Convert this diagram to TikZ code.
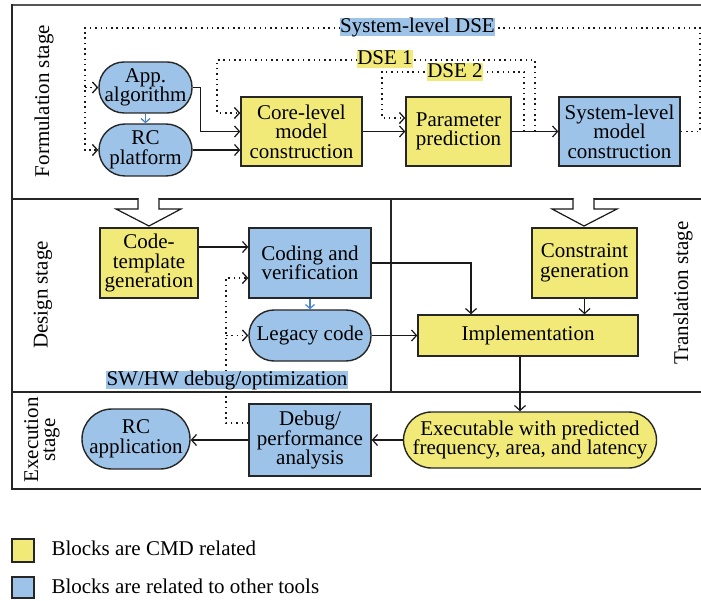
\documentclass[tikz,border=0pt]{standalone}
\usepackage{fontspec}
\setmainfont{Liberation Serif}
\usetikzlibrary{arrows.meta}
\definecolor{cmdyellow}{RGB}{242,234,120}
\definecolor{toolblue}{RGB}{157,195,232}
\definecolor{linkblue}{RGB}{72,128,205}
\definecolor{framegray}{RGB}{85,85,85}

\begin{document}
\begin{tikzpicture}[x=1pt,y=-1pt,
  font=\fontsize{21}{19.5}\selectfont,
  box/.style={draw=black!85, line width=1.4pt, align=center, inner sep=0pt},
  ybox/.style={box, fill=cmdyellow},
  bbox/.style={box, fill=toolblue},
  conn/.style={line width=1.2pt, draw=black!90, -{Straight Barb[length=5pt,width=11pt]}},
  bluearr/.style={line width=1.2pt, draw=linkblue, -{Straight Barb[length=4pt,width=9pt]}},
  dotline/.style={line width=1.3pt, draw=black!90, dash pattern=on 1.5pt off 3.8pt},
  dotarr/.style={dotline, -{Straight Barb[length=5pt,width=11pt]}},
  lbl/.style={inner xsep=0.5pt, inner ysep=0.5pt, text height=14pt, text depth=3.5pt},
  stageline/.style={line width=1.8pt, draw=black!85},
  blockarrow/.style={line width=1.2pt, draw=black!90, fill=white, line join=miter}
]
\useasboundingbox (0,0) rectangle (701,601);

% stage frame and dividers
\draw[line width=2.6pt, draw=framegray] (11,5) -- (705,5);
\draw[stageline] (12,4) -- (12,489) -- (705,489);
\draw[stageline] (12,199) -- (705,199);
\draw[stageline] (391,199) -- (391,392);
\draw[stageline] (12,392) -- (705,392);

% hollow arrows from the formulation stage into the lower stages
\fill[white] (138.7,196) rectangle (158.3,210);
\fill[white] (573.7,196) rectangle (593.3,210);
\draw[blockarrow] (138,199) -- (138,209) -- (116,209) -- (149,226) -- (181,209) -- (159,209) -- (159,199);
\draw[blockarrow] (573,199) -- (573,209) -- (552,209) -- (584,226) -- (617,209) -- (594,209) -- (594,199);

% stage names
\node[rotate=90] (fstage) at (44,101) {Formulation stage};
\node[rotate=90] (dstage) at (43,295) {Design stage};
\node[rotate=90] (tstage) at (683,293) {Translation stage};
\node[rotate=90, align=center, font=\fontsize{21}{17}\selectfont] (estage) at (42,440) {Execution\\stage};

% formulation stage blocks
\node[bbox, rounded corners=25pt, minimum width=93pt, minimum height=51pt] (app) at (145.5,87.5) {App.\\algorithm};
\node[bbox, rounded corners=26pt, minimum width=93pt, minimum height=52pt] (rc) at (145.5,150) {RC\\platform};
\node[ybox, minimum width=121pt, minimum height=69pt] (core) at (301.5,131.5) {Core-level\\model\\construction};
\node[ybox, minimum width=105pt, minimum height=69pt] (param) at (458.5,131.5) {Parameter\\prediction};
\node[bbox, minimum width=121pt, minimum height=69pt] (sys) at (619.5,131.5) {System-level\\model\\construction};

% design and translation stage blocks
\node[ybox, minimum width=98pt, minimum height=70pt] (code) at (149,263) {Code-\\template\\generation};
\node[bbox, minimum width=122pt, minimum height=70pt] (coding) at (310,263) {Coding and\\verification};
\node[bbox, rounded corners=25pt, minimum width=122pt, minimum height=51pt] (legacy) at (310,335.5) {Legacy code};
\node[ybox, minimum width=105pt, minimum height=70pt] (cons) at (584.5,263) {Constraint\\generation};
\node[ybox, minimum width=220pt, minimum height=41pt] (impl) at (528,335.5) {Implementation};

% execution stage blocks
\node[bbox, rounded corners=30pt, minimum width=108pt, minimum height=60pt] (rcapp) at (136,439) {RC\\application};
\node[bbox, minimum width=122pt, minimum height=72pt] (debug) at (310,440) {Debug/\\performance\\analysis};
\node[ybox, rounded corners=28pt, minimum width=253pt, minimum height=56pt] (exec) at (530,440) {Executable with predicted\\frequency, area, and latency};

% bend points of the loops
\coordinate (sdR) at (700,28);
\coordinate (sdL) at (85,28);
\coordinate (d1R) at (535,60);
\coordinate (d1L) at (217,60);
\coordinate (d1E) at (217,113);
\coordinate (d2R) at (524,72);
\coordinate (d2L) at (382,72);
\coordinate (d2E) at (382,118);
\coordinate (ci) at (471,263);
\coordinate (ie) at (520,356);
\coordinate (swB) at (226,423);
\coordinate (swT) at (226,278);

% formulation flow
\draw[conn] (app.east) -- ++(8,0) |- (core.west);
\draw[conn] (rc.east) -- (rc.east -| core.west);
\draw[conn] (core.east) -- (param.west);
\draw[conn] (param.east) -- (sys.west);
\draw[bluearr] (app.south) -- (rc.north);

% exploration loops
\draw[dotarr] (sys.east) -| (sdR) -- (sdL) |- (rc.west);
\draw[dotarr] (sdL |- app.west) -- (app.west);
\draw[dotarr] (d1R |- param.east) -- (d1R) -- (d1L) -- (d1E) -- (d1E -| core.west);
\draw[dotarr] (d2R |- param.east) -- (d2R) -- (d2L) -- (d2E) -- (d2E -| param.west);
\node[lbl, fill=toolblue] (sdlbl) at (417.5,27) {System-level DSE};
\node[lbl, fill=cmdyellow] (d1lbl) at (385,59) {DSE 1};
\node[lbl, fill=cmdyellow] (d2lbl) at (455,72) {DSE 2};

% design and translation flow
\draw[conn] ([yshift=16pt]code.east) -- ([yshift=16pt]coding.west);
\draw[bluearr] (coding.south) -- (legacy.north);
\draw[conn] (coding.east) -- (ci) -- (ci |- impl.north);
\draw[conn] (legacy.east) -- (legacy.east -| impl.west);
\draw[conn] (cons.south) -- (cons.south |- impl.north);
\draw[conn] (impl.south -| ie) -- (exec.north -| ie);

% debug loop
\draw[dotarr] (debug.west |- swB) -- (swB) -- (swT) -- (swT -| coding.west);
\draw[dotarr] (swB |- legacy.west) -- (legacy.west);
\node[lbl, fill=toolblue] (swlbl) at (227,380) {SW/HW debug/optimization};

% execution flow
\draw[conn] (exec.west) -- (exec.west -| debug.east);
\draw[conn] (debug.west) -- (debug.west -| rcapp.east);

% key
\node[ybox, minimum width=22pt, minimum height=23pt] (keyy) at (23,550.5) {};
\node[anchor=base west] (keyytext) at (48,555) {Blocks are CMD related};
\node[bbox, minimum width=22pt, minimum height=21pt] (keyb) at (23,587.5) {};
\node[anchor=base west] (keybtext) at (48,593) {Blocks are related to other tools};
\end{tikzpicture}
\end{document}
